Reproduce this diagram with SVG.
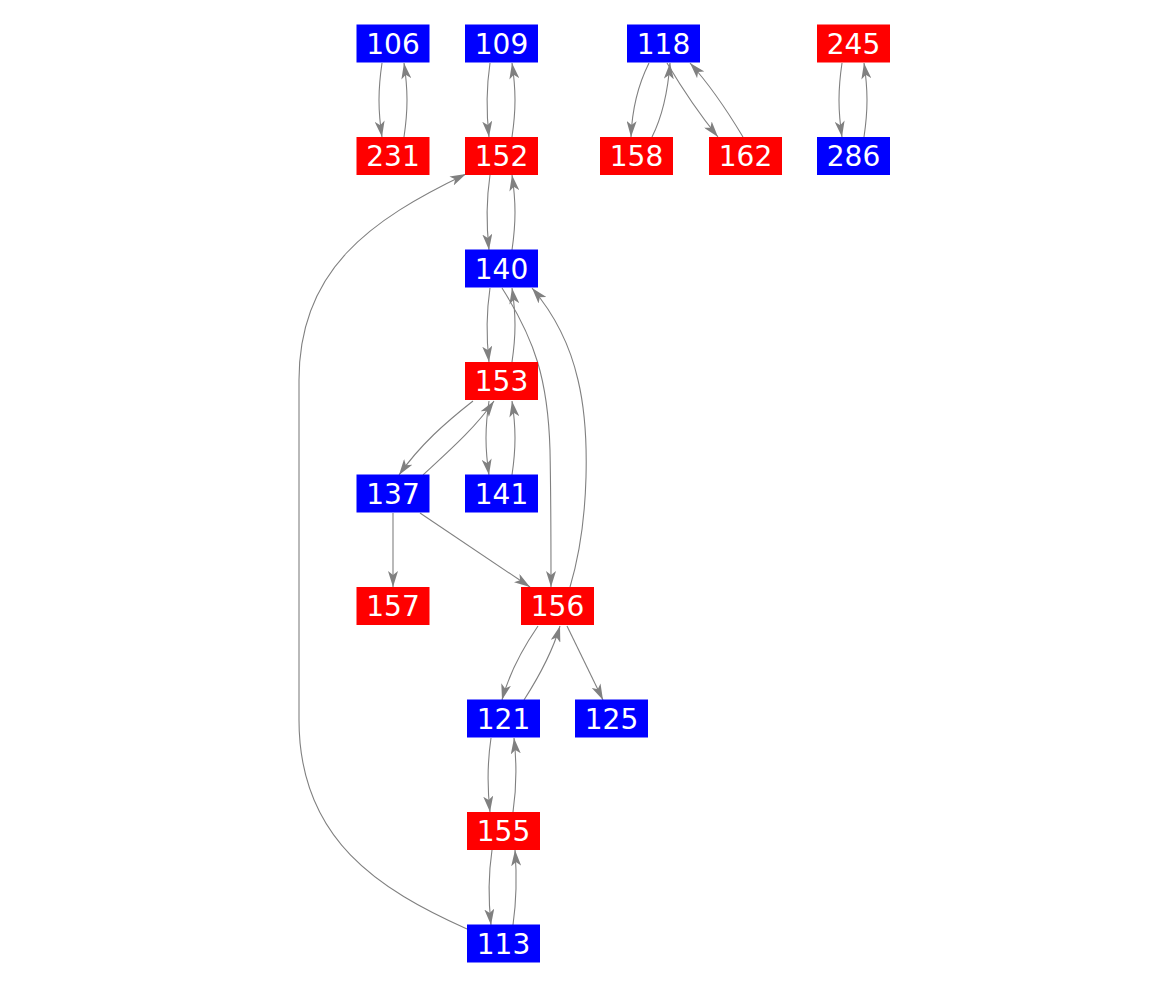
<svg xmlns="http://www.w3.org/2000/svg" width="1167" height="988" viewBox="0 0 1167 988">
<style>
.b{fill:#0000ff}
.r{fill:#ff0000}
.t{fill:#ffffff;font-family:"DejaVu Sans","Liberation Sans",sans-serif;font-size:28px;text-anchor:middle}
.e{fill:none;stroke:#808080;stroke-width:1.1;marker-end:url(#a)}
</style>
<defs>
<marker id="a" viewBox="0 0 16 10" refX="16" refY="5" markerWidth="16" markerHeight="10" markerUnits="userSpaceOnUse" orient="auto">
<path d="M0,0 L16,5 L0,10 L4,5 Z" fill="#808080"/>
</marker>
</defs>
<rect width="1167" height="988" fill="#ffffff"/>
<g id="edges">
<path class="e" d="M382,63 C378,90 378,110 382,137"/>
<path class="e" d="M404,137 C408,110 408,90 404,63"/>
<path class="e" d="M490,63 C486,90 486,110 489,137"/>
<path class="e" d="M512,137 C516,110 516,90 512,63"/>
<path class="e" d="M490,175 C486,202 486,222 489,250"/>
<path class="e" d="M512,250 C516,222 516,202 512,175"/>
<path class="e" d="M490,288 C486,315 486,335 489,362"/>
<path class="e" d="M512,362 C516,335 516,315 512,288"/>
<path class="e" d="M489,401 C485,428 485,448 489,475"/>
<path class="e" d="M512,475 C516,448 516,428 512,401"/>
<path class="e" d="M473,401 C445,423 420,445 399,475"/>
<path class="e" d="M423,475 C450,450 475,428 494,401"/>
<path class="e" d="M502,288 C535,340 548,380 550,450 C551,500 551,550 551,587"/>
<path class="e" d="M570,587 C590,520 590,430 578,380 C570,345 555,315 532,288"/>
<path class="e" d="M393,513 L393,587"/>
<path class="e" d="M420,513 L530,587"/>
<path class="e" d="M538,626 C525,645 510,670 502,700"/>
<path class="e" d="M524,700 C540,675 553,650 560,626"/>
<path class="e" d="M567,626 L603,700"/>
<path class="e" d="M491,738 C487,765 487,785 490,812"/>
<path class="e" d="M513,812 C517,785 517,765 514,738"/>
<path class="e" d="M492,850 C488,877 488,897 491,925"/>
<path class="e" d="M513,925 C517,897 517,877 515,850"/>
<path class="e" d="M467,929 C380,890 299,840 299,720 L299,380 C299,270 370,220 466,174"/>
<path class="e" d="M649,63 C638,85 632,110 631,137"/>
<path class="e" d="M652,137 C663,115 668,90 670,63"/>
<path class="e" d="M667,63 C683,90 700,115 718,137"/>
<path class="e" d="M743,137 C728,112 710,85 690,63"/>
<path class="e" d="M842,63 C838,90 838,110 842,137"/>
<path class="e" d="M864,137 C868,110 868,90 864,63"/>
</g>
<g id="n106"><rect class="b" x="356.5" y="24.5" width="73" height="38"/><text class="t" x="393" y="53.5">106</text></g>
<g id="n109"><rect class="b" x="465" y="24.5" width="73" height="38"/><text class="t" x="501.5" y="53.5">109</text></g>
<g id="n118"><rect class="b" x="627" y="24.5" width="73" height="38"/><text class="t" x="663.5" y="53.5">118</text></g>
<g id="n245"><rect class="r" x="817" y="24.5" width="73" height="38"/><text class="t" x="853.5" y="53.5">245</text></g>
<g id="n231"><rect class="r" x="356.5" y="137" width="73" height="38"/><text class="t" x="393" y="166">231</text></g>
<g id="n152"><rect class="r" x="465" y="137" width="73" height="38"/><text class="t" x="501.5" y="166">152</text></g>
<g id="n158"><rect class="r" x="600" y="137" width="73" height="38"/><text class="t" x="636.5" y="166">158</text></g>
<g id="n162"><rect class="r" x="709" y="137" width="73" height="38"/><text class="t" x="745.5" y="166">162</text></g>
<g id="n286"><rect class="b" x="817" y="137" width="73" height="38"/><text class="t" x="853.5" y="166">286</text></g>
<g id="n140"><rect class="b" x="465" y="249.5" width="73" height="38"/><text class="t" x="501.5" y="278.5">140</text></g>
<g id="n153"><rect class="r" x="465" y="362" width="73" height="38"/><text class="t" x="501.5" y="391">153</text></g>
<g id="n137"><rect class="b" x="356.5" y="474.5" width="73" height="38"/><text class="t" x="393" y="503.5">137</text></g>
<g id="n141"><rect class="b" x="465" y="474.5" width="73" height="38"/><text class="t" x="501.5" y="503.5">141</text></g>
<g id="n157"><rect class="r" x="356.5" y="587" width="73" height="38"/><text class="t" x="393" y="616">157</text></g>
<g id="n156"><rect class="r" x="521" y="587" width="73" height="38"/><text class="t" x="557.5" y="616">156</text></g>
<g id="n121"><rect class="b" x="467" y="699.5" width="73" height="38"/><text class="t" x="503.5" y="728.5">121</text></g>
<g id="n125"><rect class="b" x="575" y="699.5" width="73" height="38"/><text class="t" x="611.5" y="728.5">125</text></g>
<g id="n155"><rect class="r" x="467" y="812" width="73" height="38"/><text class="t" x="503.5" y="841">155</text></g>
<g id="n113"><rect class="b" x="467" y="924.5" width="73" height="38"/><text class="t" x="503.5" y="953.5">113</text></g>
</svg>
